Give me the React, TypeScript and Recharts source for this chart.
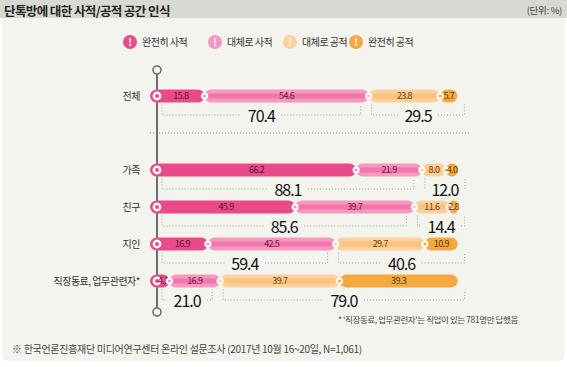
import React from "react";
import { BarChart, Bar, XAxis, YAxis, ReferenceLine } from "recharts";

// 단톡방에 대한 사적/공적 공간 인식 (단위: %)
const categories = ["전체", "가족", "친구", "지인", "직장동료, 업무관련자*"];
const fullyPrivate = [15.8, 66.2, 45.9, 16.9, 4.1];
const mostlyPrivate = [54.6, 21.9, 39.7, 42.5, 16.9];
const mostlyPublic = [23.8, 8.0, 11.6, 29.7, 39.7];
const fullyPublic = [5.7, 4.0, 2.8, 10.9, 39.3];
const seriesNames = ["완전히 사적", "대체로 사적", "대체로 공적", "완전히 공적"];

const KEYS = ["a", "b", "c", "d"];
const COLORS = ["#ea4a8a", "#f698c0", "#fdd19c", "#f7a93f"];
const STRIPES = [null, "#f176ab", "#fcc27f", null];
const LABEL_COLORS = ["#5a1530", "#6a1c42", "#6a4212", "#5c3608"];
const GAP = "__gap";
const FONT = "'Noto Sans CJK KR', 'Noto Sans', sans-serif";

const rows = categories.map((name, i) => ({
  name,
  a: fullyPrivate[i],
  b: mostlyPrivate[i],
  c: mostlyPublic[i],
  d: fullyPublic[i],
}));
const data = [rows[0], { name: GAP, a: null, b: null, c: null, d: null }, ...rows.slice(1)];

const fmt = (v: number) => (Math.round(v * 10) / 10).toFixed(1);

function Bracket({ left, right, cy, top, total }: any) {
  const mid = (left + right) / 2;
  const bottom = cy + 19;
  const half = 20;
  const dot = { stroke: "#9a9a9a", strokeWidth: 1, strokeDasharray: "1 2", fill: "none" };
  return (
    <g>
      <polyline {...dot} points={`${left},${top} ${left},${bottom} ${Math.max(left, mid - half)},${bottom}`} />
      <polyline {...dot} points={`${Math.min(right, mid + half)},${bottom} ${right},${bottom} ${right},${top}`} />
      <text x={mid} y={cy + 25.5} textAnchor="middle" fontSize={16} fill="#111" fontFamily={FONT} letterSpacing={-1}>
        {fmt(total)}
      </text>
    </g>
  );
}

function makeShape(k: number) {
  return (p: any) => {
    const { x, y, width: w, height: h, payload } = p;
    if (!payload || payload.name === GAP || !(w > 0)) return <g />;
    const cy = y + h / 2;
    const left = k === 0 ? x - h / 2 - 0.5 : x;
    const right = x + w;
    const r = Math.min(h / 2, (right - left) / 2);
    const val = payload[KEYS[k]];
    const scale = w / val;
    let bracket = null;
    if (k === 1) {
      const start = x - payload.a * scale;
      bracket = <Bracket left={start + 5} right={right - 8} cy={cy} top={y + h + 2} total={payload.a + payload.b} />;
    }
    if (k === 3) {
      const start = x - payload.c * scale;
      bracket = <Bracket left={start + 3} right={right + 7} cy={cy} top={y + h + 2} total={payload.c + payload.d} />;
    }
    return (
      <g>
        <rect x={left} y={y} width={right - left} height={h} rx={r} ry={r} fill={COLORS[k]} />
        {STRIPES[k] && (
          <rect x={left + 4} y={cy - 2.5} width={Math.max(0, right - left - 8)} height={5} fill={STRIPES[k] as string} />
        )}
        {k === 0 ? (
          <g>
            <circle cx={x} cy={cy} r={4.4} fill="#fff" />
            <circle cx={x} cy={cy} r={2} fill={COLORS[0]} />
          </g>
        ) : (
          <g>
            <circle cx={x} cy={cy} r={3.5} fill="#fff" />
            <circle cx={x} cy={cy} r={1.6} fill={COLORS[k]} />
          </g>
        )}
        <text
          x={x + w / 2}
          y={cy + 3.3}
          textAnchor="middle"
          fontSize={9}
          fill={LABEL_COLORS[k]}
          fontFamily={FONT}
          letterSpacing={-0.6}
        >
          {fmt(val)}
        </text>
        {bracket}
      </g>
    );
  };
}

const CategoryTick = (p: any) => {
  const v = p.payload?.value;
  if (v === GAP) return <g />;
  return (
    <text x={p.x} y={p.y + 3.5} textAnchor="end" fontSize={10} fill="#333" fontFamily={FONT} letterSpacing={-0.5}>
      {v}
    </text>
  );
};

const AxisLine = (p: any) => (
  <g>
    <line x1={p.x1} y1={p.y1} x2={p.x2} y2={p.y2} stroke="#6e6e6e" strokeWidth={2} />
    <circle cx={p.x1} cy={p.y1} r={4} fill="#f4f4ef" stroke="#6e6e6e" strokeWidth={1.6} />
    <circle cx={p.x2} cy={p.y2} r={4} fill="#f4f4ef" stroke="#6e6e6e" strokeWidth={1.6} />
  </g>
);

const Divider = (p: any) => (
  <line x1={p.x1 - 7} y1={p.y1} x2={p.x2 + 12} y2={p.y2} stroke="#8a8a8a" strokeWidth={1} strokeDasharray="1 2" />
);

const legendLeft = [123, 208, 283, 349];

export default function App() {
  return (
    <div style={{ position: "relative", width: 567, height: 367, background: "#fff", fontFamily: FONT, overflow: "hidden" }}>
      <style>{`body{margin:0}`}</style>
      <div style={{ position: "absolute", left: 2, top: 0, width: 563, height: 361, background: "#f4f4ef", borderRadius: "0 0 6px 6px" }} />
      <div style={{ position: "absolute", left: 0, top: 0, width: 567, height: 18, background: "#d9d9d3" }} />
      <div style={{ position: "absolute", left: 4, top: 1, fontSize: 12.5, fontWeight: 700, color: "#222", letterSpacing: -0.6 }}>
        단톡방에 대한 사적/공적 공간 인식
      </div>
      <div style={{ position: "absolute", right: 5, top: 3, fontSize: 9.5, color: "#444", letterSpacing: -0.3 }}>(단위: %)</div>

      {seriesNames.map((n, i) => (
        <div key={n} style={{ position: "absolute", left: legendLeft[i], top: 34, display: "flex", alignItems: "center" }}>
          <div
            style={{
              width: 14,
              height: 14,
              borderRadius: 7,
              background: COLORS[i],
              color: "#fff",
              fontSize: 10,
              fontWeight: 700,
              lineHeight: "14px",
              textAlign: "center",
            }}
          >
            !
          </div>
          <span style={{ marginLeft: 5, fontSize: 10, color: "#333", letterSpacing: -0.5 }}>{n}</span>
        </div>
      ))}

      <div style={{ position: "absolute", left: 0, top: 0 }}>
        <BarChart
          width={567}
          height={367}
          data={data}
          layout="vertical"
          margin={{ top: 70, right: 109, bottom: 55, left: 0 }}
          barSize={13}
        >
          <XAxis type="number" domain={[0, 100]} hide />
          <YAxis
            type="category"
            dataKey="name"
            width={157}
            axisLine={false}
            tickLine={false}
            tickSize={0}
            tickMargin={17}
            padding={{ top: 7.5, bottom: 12.5 }}
            tick={<CategoryTick />}
            interval={0}
          />
          <ReferenceLine y={GAP} shape={<Divider />} />
          <ReferenceLine x={0} shape={<AxisLine />} {...({ zIndex: 100 } as any)} />
          {KEYS.map((k, i) => (
            <Bar
              key={k}
              dataKey={k}
              name={seriesNames[i]}
              stackId="s"
              fill={COLORS[i]}
              shape={makeShape(i)}
              isAnimationActive={false}
            />
          ))}
        </BarChart>
      </div>

      <div style={{ position: "absolute", left: 338, top: 313, fontSize: 8.5, color: "#444", letterSpacing: -0.4 }}>
        * '직장동료, 업무관련자'는 직업이 있는 781명만 답했음
      </div>
      <div style={{ position: "absolute", left: 12, top: 341, fontSize: 10, color: "#444", letterSpacing: -0.3 }}>
        ※ 한국언론진흥재단 미디어연구센터 온라인 설문조사 (2017년 10월 16~20일, N=1,061)
      </div>
    </div>
  );
}
